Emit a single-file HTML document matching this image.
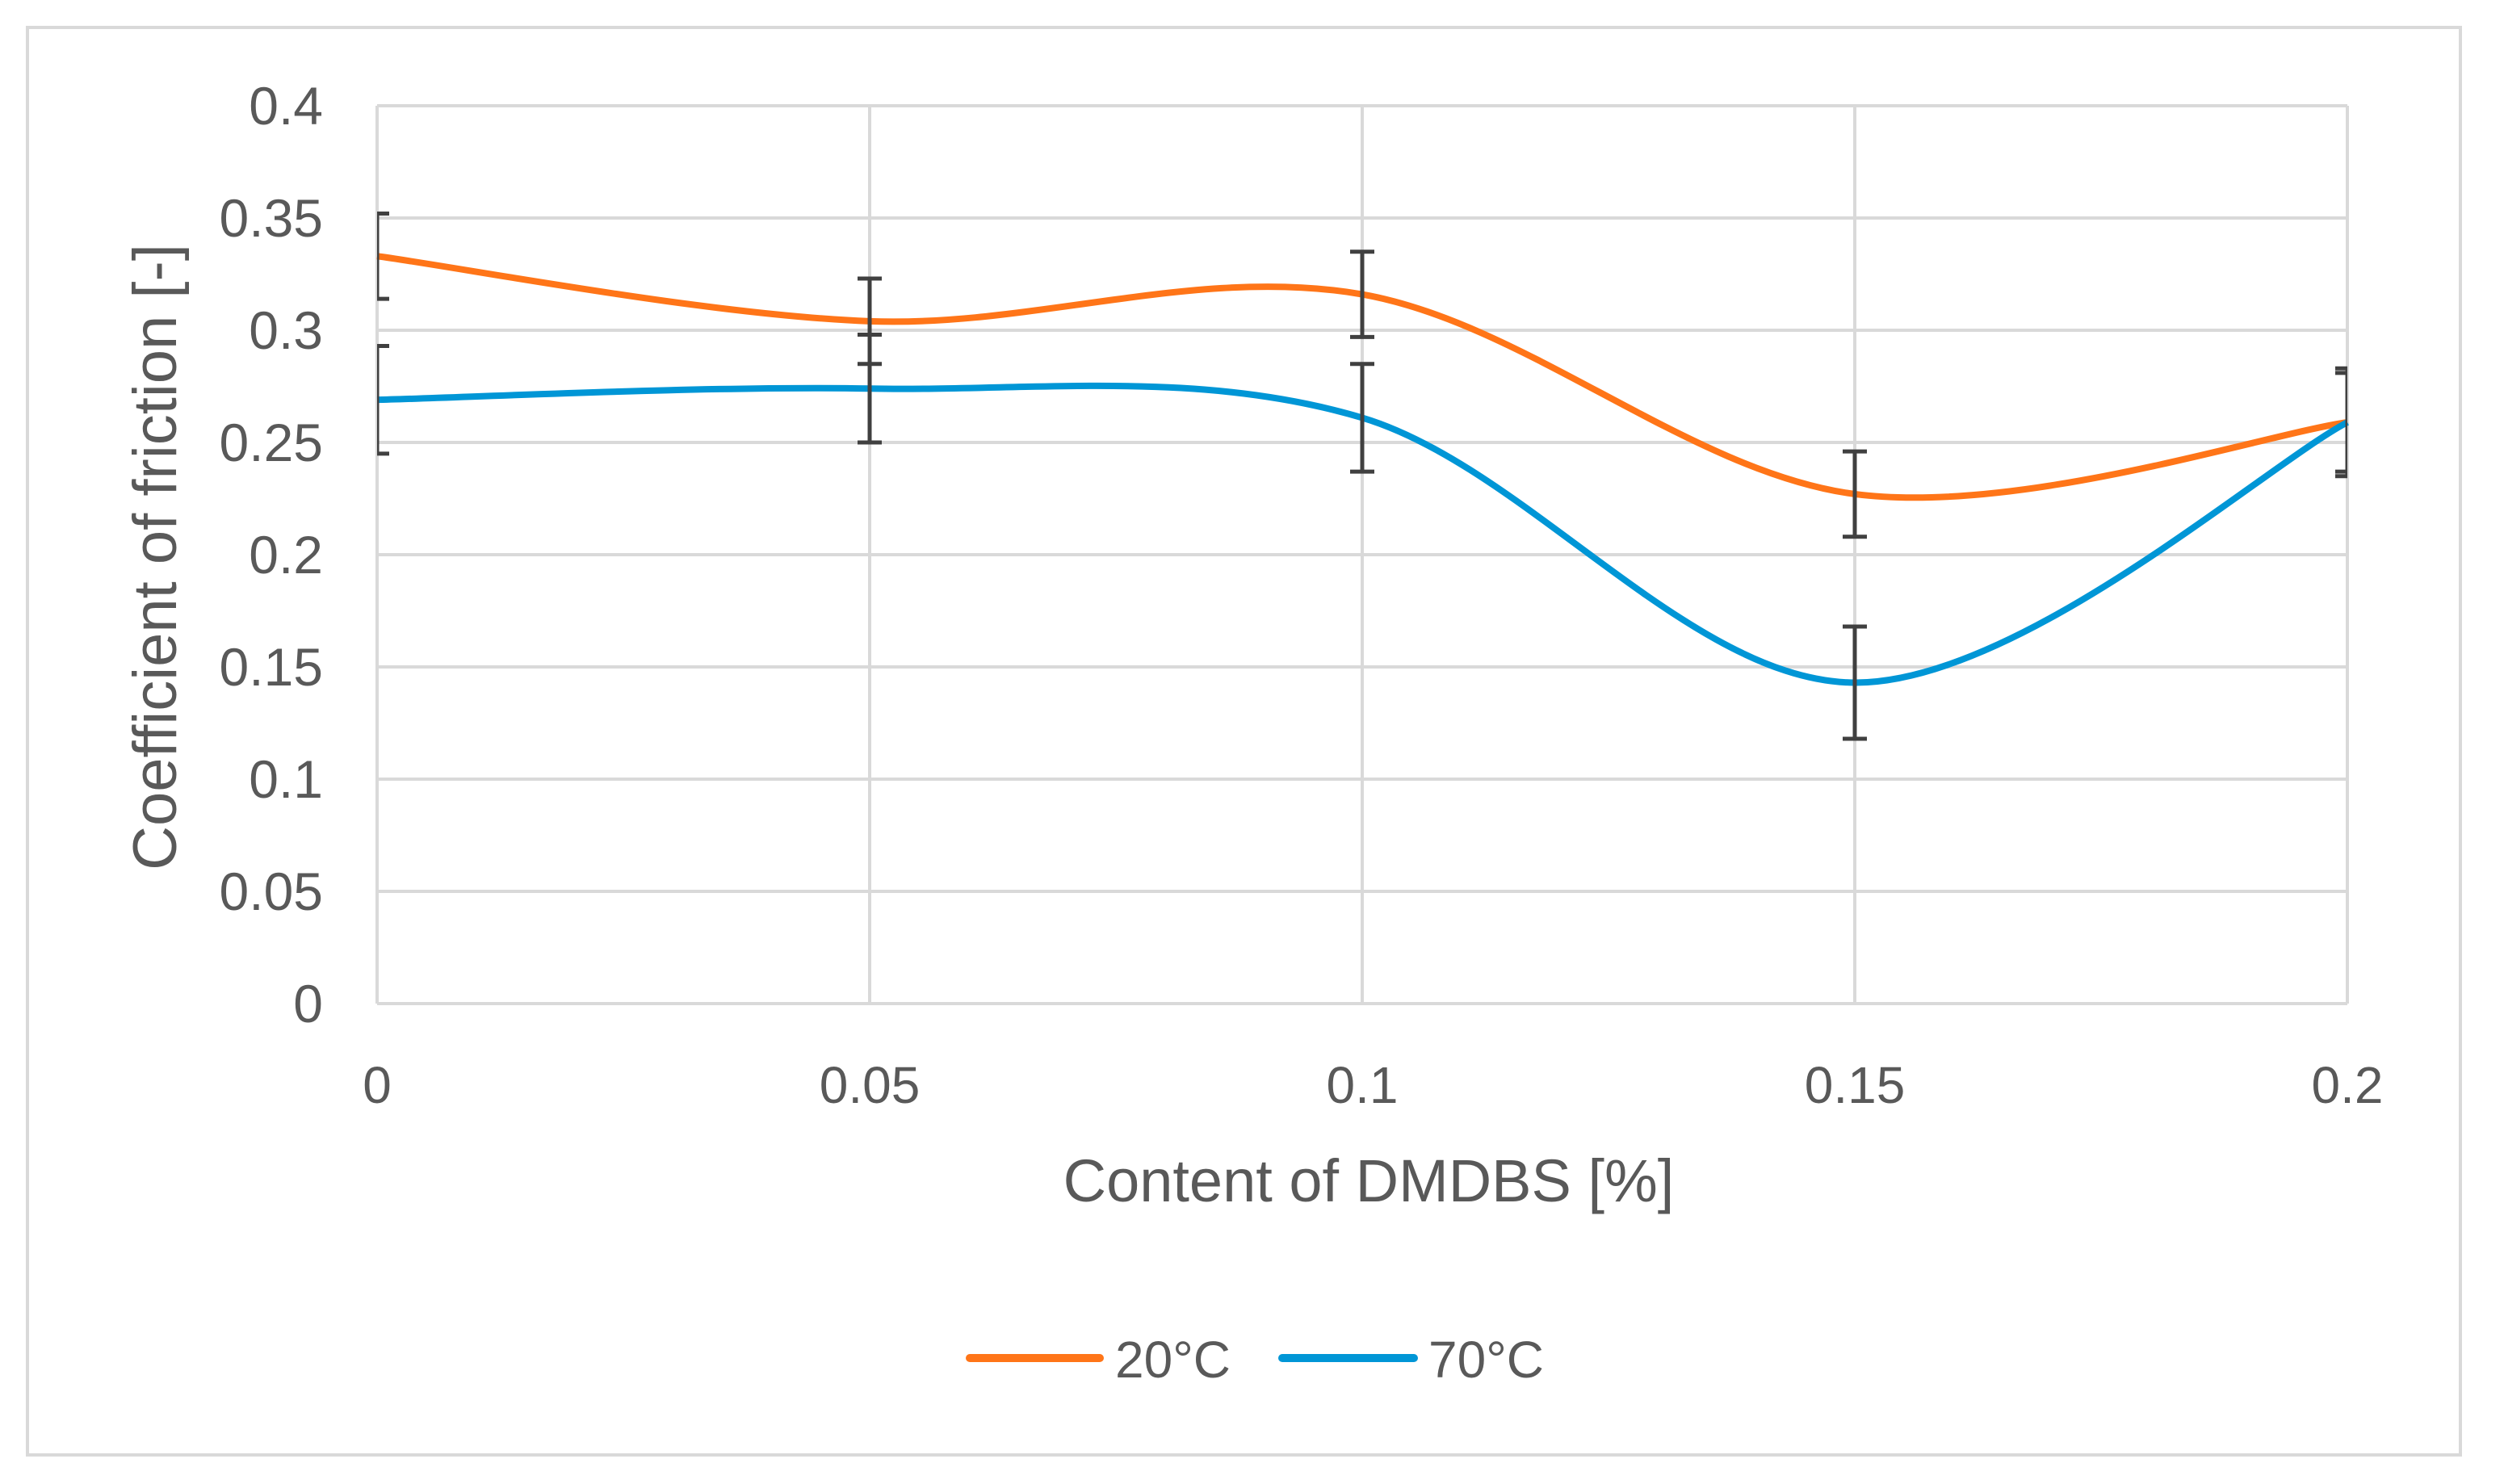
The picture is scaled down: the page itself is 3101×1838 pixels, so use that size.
<!DOCTYPE html>
<html><head><meta charset="utf-8"><style>
body{margin:0;background:#fff;}
svg text{font-family:"Liberation Sans",sans-serif;fill:#595959;}
</style></head><body>
<svg id="chart" width="3101" height="1833" viewBox="0 0 3101 1833" xmlns="http://www.w3.org/2000/svg">
<rect x="34" y="34" width="3013" height="1768" fill="#fff" stroke="#d9d9d9" stroke-width="4"/>
<defs><clipPath id="plotclip"><rect x="467" y="100" width="2440" height="1160"/></clipPath></defs>
<g id="grid"></g>
<g id="ylabels"></g>
<g id="xlabels"></g>
<g id="series"></g>
<g id="errs" clip-path="url(#plotclip)"></g>
<text x="1695" y="1488" font-size="74" text-anchor="middle">Content of DMDBS [%]</text>
<text transform="translate(218,690) rotate(-90)" font-size="76" text-anchor="middle">Coefficient of friction [-]</text>
<g>
<line x1="1201" y1="1682" x2="1362" y2="1682" stroke="#FF7518" stroke-width="10" stroke-linecap="round"/>
<text x="1381" y="1706" font-size="64">20°C</text>
<line x1="1588" y1="1682" x2="1751" y2="1682" stroke="#0096D6" stroke-width="10" stroke-linecap="round"/>
<text x="1769" y="1706" font-size="64">70°C</text>
</g>
</svg>
<script>
const categories = [0, 0.05, 0.1, 0.15, 0.2];
const xTickLabels = ["0", "0.05", "0.1", "0.15", "0.2"];
const yTicks = [0, 0.05, 0.1, 0.15, 0.2, 0.25, 0.3, 0.35, 0.4];
const yTickLabels = ["0", "0.05", "0.1", "0.15", "0.2", "0.25", "0.3", "0.35", "0.4"];
const values20 = [0.333, 0.304, 0.316, 0.227, 0.259];
const err20 = [0.019, 0.019, 0.019, 0.019, 0.022];
const values70 = [0.269, 0.274, 0.261, 0.143, 0.259];
const err70 = [0.024, 0.024, 0.024, 0.025, 0.024];

const L=467,R=2907,T=131,B=1243;
const xs=v=>L+(v-0)/(0.2)*(R-L);
const ys=v=>B-(v/0.4)*(B-T);
const NS="http://www.w3.org/2000/svg";
function mk(tag,attrs,parent){const e=document.createElementNS(NS,tag);for(const k in attrs)e.setAttribute(k,attrs[k]);parent.appendChild(e);return e;}
const grid=document.getElementById('grid');
yTicks.forEach((t,i)=>{
  const l=mk('line',{x1:L,x2:R,y1:ys(t),y2:ys(t),stroke:'#d9d9d9','stroke-width':4},grid);
  
  
  const tx=mk('text',{x:400,y:ys(t)+23,'font-size':66,'text-anchor':'end'},document.getElementById('ylabels'));
  tx.textContent=yTickLabels[i];
  
  
});
categories.forEach((c,i)=>{
  const l=mk('line',{x1:xs(c),x2:xs(c),y1:T,y2:B,stroke:'#d9d9d9','stroke-width':4},grid);
  
  
  const tx=mk('text',{x:xs(c),y:1366,'font-size':64,'text-anchor':'middle'},document.getElementById('xlabels'));
  tx.textContent=xTickLabels[i];
  
  
});
function smooth(vals){
  const p=categories.map((c,i)=>[xs(c),ys(vals[i])]);
  let d=`M${p[0][0]},${p[0][1]}`;
  for(let i=0;i<p.length-1;i++){
    const p0=p[Math.max(i-1,0)],p1=p[i],p2=p[i+1],p3=p[Math.min(i+2,p.length-1)];
    const k=1/6;
    d+=` C${p1[0]+(p2[0]-p0[0])*k},${p1[1]+(p2[1]-p0[1])*k} ${p2[0]-(p3[0]-p1[0])*k},${p2[1]-(p3[1]-p1[1])*k} ${p2[0]},${p2[1]}`;
  }
  return d;
}
const ser=document.getElementById('series');
const s20=mk('path',{d:smooth(values20),fill:'none',stroke:'#FF7518','stroke-width':8},ser);


const s70=mk('path',{d:smooth(values70),fill:'none',stroke:'#0096D6','stroke-width':8},ser);


const eg=document.getElementById('errs');
function errs(vals,errsArr,name){
  categories.forEach((c,i)=>{
    const x=xs(c),y1=ys(vals[i]+errsArr[i]),y2=ys(vals[i]-errsArr[i]);
    const g=mk('g',{stroke:'#404040','stroke-width':5,fill:'none'},eg);
    
    
    mk('line',{x1:x,x2:x,y1:y1,y2:y2},g);
    mk('line',{x1:x-15,x2:x+15,y1:y1,y2:y1},g);
    mk('line',{x1:x-15,x2:x+15,y1:y2,y2:y2},g);
  });
}
errs(values20,err20,'error-bar-20c');
errs(values70,err70,'error-bar-70c');
</script>
</body></html>
